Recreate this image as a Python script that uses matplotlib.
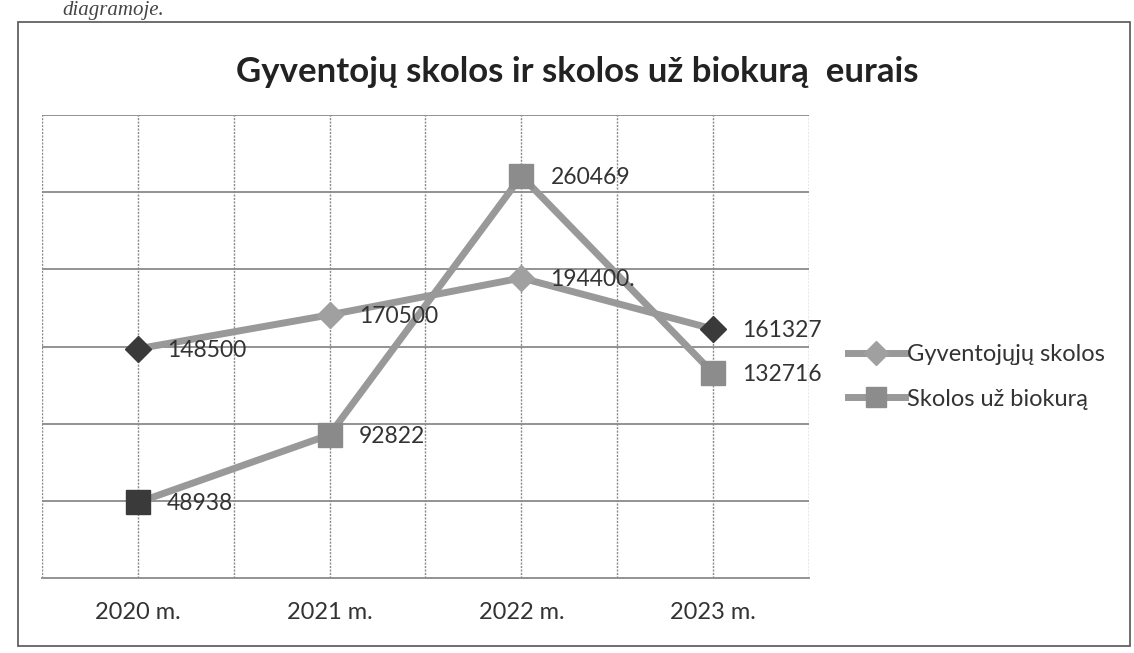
import matplotlib
matplotlib.use("Agg")
import matplotlib.pyplot as plt
from matplotlib.lines import Line2D
from matplotlib.patches import Rectangle

categories = ["2020 m.", "2021 m.", "2022 m.", "2023 m."]
gyventoju = [148500, 170500, 194400, 161327]
biokuras = [48938, 92822, 260469, 132716]
gyv_labels = ["148500", "170500", "194400.", "161327"]
bio_labels = ["48938", "92822", "260469", "132716"]
series_names = ["Gyventojųjų skolos", "Skolos už biokurą"]
title = "Gyventojų skolos ir skolos už biokurą  eurais"

W, H = 1134, 653
fig = plt.figure(figsize=(W / 100, H / 100), dpi=100)
plt.rcParams['font.family'] = ['Lato', 'DejaVu Sans']

# outer chart border
fig.patches.append(Rectangle((18 / W, 1 - 646 / H), (1130 - 18) / W, (646 - 22) / H,
                             transform=fig.transFigure, fill=False,
                             edgecolor='#555555', lw=1.2))

# scanned page text fragment
fig.text(62 / W, 1 - 1 / H, "diagramoje.", family='Liberation Serif', style='italic',
         fontsize=15, color='#444444', va='top', ha='left')

left, right, top, bottom = 42, 809, 115, 578
ax = fig.add_axes([left / W, 1 - bottom / H, (right - left) / W, (bottom - top) / H])
x = list(range(len(categories)))
ax.set_xlim(-0.5, len(categories) - 0.5)
ax.set_ylim(0, 300000)

# gridlines
for yv in range(50000, 300001, 50000):
    ax.axhline(yv, color='#8a8a8a', lw=1.3, zorder=1)
for xv in [i * 0.5 - 0.5 for i in range(2 * len(categories) + 1)]:
    ax.axvline(xv, color='#8a8a8a', lw=1.0, ls=(0, (1.5, 1)), zorder=1)

for s in ['top', 'left', 'right']:
    ax.spines[s].set_visible(False)
ax.spines['bottom'].set_color('#8a8a8a')
ax.spines['bottom'].set_linewidth(1.3)

line_col = '#999999'
ax.plot(x, gyventoju, color=line_col, lw=5, zorder=3)
ax.plot(x, biokuras, color=line_col, lw=5, zorder=3)
gyv_mc = ['#3a3a3a', '#a0a0a0', '#a0a0a0', '#3a3a3a']
bio_mc = ['#3a3a3a', '#8a8a8a', '#8c8c8c', '#8c8c8c']
for i in x:
    ax.plot(x[i], gyventoju[i], marker='D', ms=13, color=gyv_mc[i], mec=gyv_mc[i], zorder=4)
    ax.plot(x[i], biokuras[i], marker='s', ms=17, color=bio_mc[i], mec=bio_mc[i], zorder=4)
    ax.annotate(gyv_labels[i], (x[i], gyventoju[i]), xytext=(21, -1), textcoords='offset points',
                fontsize=16.5, color='#333333', va='center', ha='left', zorder=5)
    ax.annotate(bio_labels[i], (x[i], biokuras[i]), xytext=(21, -1), textcoords='offset points',
                fontsize=16.5, color='#333333', va='center', ha='left', zorder=5)

ax.set_xticks(x)
ax.set_xticklabels(categories, fontsize=17, color='#333333')
ax.tick_params(axis='x', length=0, pad=17)
ax.set_yticks([])

fig.text(577 / W, 1 - 72 / H, title, fontsize=25, fontweight='bold', color='#222222',
         ha='center', va='center')

handles = [Line2D([], [], color=line_col, lw=5, marker='D', ms=12, mfc='#a0a0a0', mec='#a0a0a0'),
           Line2D([], [], color=line_col, lw=5, marker='s', ms=15, mfc='#8c8c8c', mec='#8c8c8c')]
fig.legend(handles, series_names, loc='upper left', bbox_to_anchor=(848 / W, 1 - 344 / H),
           frameon=False, fontsize=17, handlelength=2.4, handletextpad=0.1,
           borderpad=0, borderaxespad=0,
           labelspacing=1.0, labelcolor='#333333')

fig.savefig("out.png", dpi=100)
